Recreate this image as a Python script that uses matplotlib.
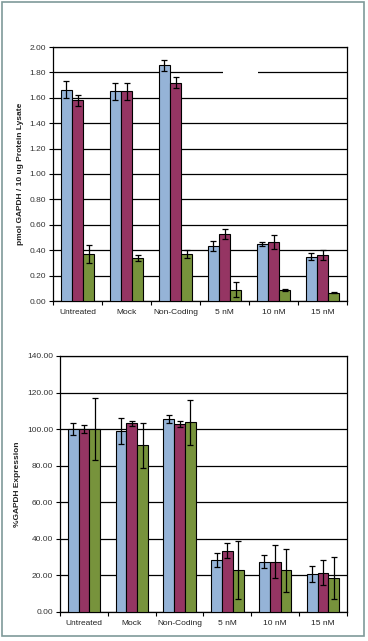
import numpy as np
import matplotlib.pyplot as plt
from matplotlib.patches import Rectangle

plt.rcParams['font.family'] = ['Liberation Sans', 'DejaVu Sans']

categories = ['Untreated', 'Mock', 'Non-Coding', '5 nM', '10 nM', '15 nM']
colors = ['#95B3D7', '#953563', '#77933C']

# top panel: pmol GAPDH per 10 ug protein
pmol_a = [1.665, 1.65, 1.855, 0.43, 0.45, 0.35]
pmol_b = [1.58, 1.65, 1.72, 0.53, 0.465, 0.365]
pmol_c = [0.37, 0.34, 0.37, 0.09, 0.087, 0.066]
pmol_a_err = [0.07, 0.07, 0.045, 0.04, 0.015, 0.025]
pmol_b_err = [0.045, 0.07, 0.045, 0.04, 0.055, 0.04]
pmol_c_err = [0.07, 0.025, 0.03, 0.06, 0.005, 0.003]

# bottom panel: % GAPDH expression
pct_a = [100.0, 98.9, 105.5, 28.2, 27.6, 21.0]
pct_b = [100.0, 103.2, 102.7, 33.6, 27.6, 21.6]
pct_c = [100.0, 91.2, 103.8, 23.2, 22.7, 18.8]
pct_a_err = [3.2, 7.2, 2.2, 3.8, 3.3, 4.4]
pct_b_err = [2.2, 1.3, 1.5, 4.2, 8.8, 7.1]
pct_c_err = [17.0, 12.2, 12.3, 15.9, 12.0, 11.5]

W, H = 368, 641
fig = plt.figure(figsize=(W / 100, H / 100), dpi=100)
fig.patch.set_facecolor('white')

# frame around whole figure
fig.add_artist(Rectangle((2 / W, 1 - 636 / H), 362 / W, 634 / H, transform=fig.transFigure,
                         fill=False, edgecolor='#7F9A99', linewidth=1.2))


def panel(rect, series, errs, ymax, ystep, ylabel):
    ax = fig.add_axes([rect[0] / W, 1 - rect[3] / H, (rect[2] - rect[0]) / W, (rect[3] - rect[1]) / H])
    x = np.arange(len(categories))
    bw = 0.225
    for i, (vals, e) in enumerate(zip(series, errs)):
        ax.bar(x + (i - 1) * bw, vals, bw, color=colors[i], edgecolor='black', linewidth=0.8, zorder=3,
               yerr=e, error_kw=dict(ecolor='black', elinewidth=0.9, capsize=2.5, capthick=0.9, zorder=4))
    ax.set_xlim(-0.5, len(categories) - 0.5)
    ax.set_ylim(0, ymax)
    ticks = np.arange(0, ymax + ystep / 2, ystep)
    ax.set_yticks(ticks)
    ax.set_yticklabels([f'{t:.2f}' for t in ticks], fontsize=6, color='#333333')
    ax.set_xticks(x)
    ax.set_xticklabels(categories, fontsize=6, color='#222222')
    ax.tick_params(axis='x', length=0, pad=6)
    ax.set_xticks(np.arange(-0.5, len(categories)), minor=True)
    ax.tick_params(axis='x', which='minor', length=3, width=0.8, direction='out')
    ax.tick_params(axis='y', length=3, width=0.8, direction='out', pad=2)
    ax.grid(axis='y', color='black', linewidth=0.9, zorder=0)
    for s in ax.spines.values():
        s.set_linewidth(0.9)
        s.set_color('black')
    ax.set_ylabel(ylabel, fontsize=6, fontweight='bold', color='#222222', labelpad=4)
    return ax


ax1 = panel((53, 47, 347, 301), [pmol_a, pmol_b, pmol_c], [pmol_a_err, pmol_b_err, pmol_c_err],
            2.0, 0.2, 'pmol GAPDH / 10 ug Protein Lysate')
# small gap in the 1.80 gridline (where a legend was blanked out)
ax1.add_patch(Rectangle((0.578, 1.77), 0.119, 0.06, transform=ax1.get_yaxis_transform(),
                        facecolor='white', edgecolor='none', zorder=2))

ax2 = panel((60, 356, 347, 612), [pct_a, pct_b, pct_c], [pct_a_err, pct_b_err, pct_c_err],
            140, 20, '%GAPDH Expression')

fig.savefig('out.png', dpi=100)
